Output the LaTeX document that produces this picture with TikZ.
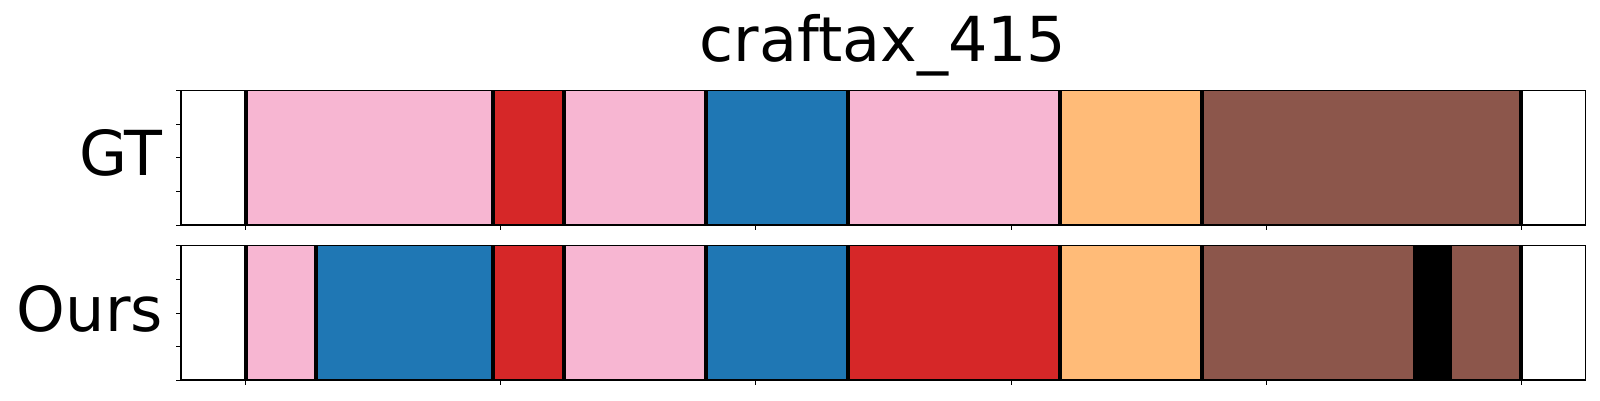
\documentclass[tikz,border=0pt]{standalone}
\usepackage{fontspec}
\setmainfont{DejaVu Sans}
\definecolor{tpink}{HTML}{F7B6D2}
\definecolor{tred}{HTML}{D62728}
\definecolor{tblue}{HTML}{1F77B4}
\definecolor{torange}{HTML}{FFBB78}
\definecolor{tbrown}{HTML}{8C564B}
\tikzset{
  frame/.style={draw=black, line width=1.1pt},
  bound/.style={draw=black, line width=4pt},
  tickmark/.style={draw=black, line width=1pt},
  bigtext/.style={font=\fontsize{62}{70}\selectfont, inner sep=0pt},
}
\begin{document}
\begin{tikzpicture}[x=1pt,y=-1pt]
\useasboundingbox (0,0) rectangle (1600,400);
% GT segments
\foreach \a/\b/\c in {245.5/492.7/tpink, 492.7/564/tred, 564/706/tpink, 706/848/tblue, 848/1060/tpink, 1060/1202/torange, 1202/1521/tbrown}
  \fill[\c] (\a,90.3) rectangle (\b,225);
% Ours segments
\foreach \a/\b/\c in {245.5/315.7/tpink, 315.7/492.7/tblue, 492.7/564/tred, 564/706/tpink, 706/848/tblue, 848/1060/tred, 1060/1202/torange, 1202/1413/tbrown, 1413/1452/black, 1452/1521/tbrown}
  \fill[\c] (\a,245.3) rectangle (\b,380);
% boundaries
\foreach \x in {245.5, 492.7, 564, 706, 848, 1060, 1202, 1521}
  \draw[bound] (\x,90.3) -- (\x,225);
\foreach \x in {245.5, 315.7, 492.7, 564, 706, 848, 1060, 1202, 1521}
  \draw[bound] (\x,245.3) -- (\x,380);
% frames
\draw[frame] (181,90.3) rectangle (1585.3,225);
\draw[frame] (181,245.3) rectangle (1585.3,380);
% x ticks
\foreach \i in {0,...,5} {
  \draw[tickmark] ({245.7+255.12*\i},225) -- ++(0,5);
  \draw[tickmark] ({245.7+255.12*\i},380) -- ++(0,5);
}
% y ticks
\foreach \y in {90.3, 124.3, 157.3, 191.3, 225}
  \draw[tickmark] (181,\y) -- ++(-5,0);
\foreach \y in {245.3, 279.3, 313.3, 346.3, 380}
  \draw[tickmark] (181,\y) -- ++(-5,0);
% labels
\node[bigtext, anchor=base east] (gt) at (163,175) {GT};
\node[bigtext, anchor=base east] (ours) at (163,331) {Ours};
\node[font=\fontsize{62}{70}\selectfont, inner sep=0pt, anchor=base] (title) at (883,61.7) {craftax\_415};
\end{tikzpicture}
\end{document}
